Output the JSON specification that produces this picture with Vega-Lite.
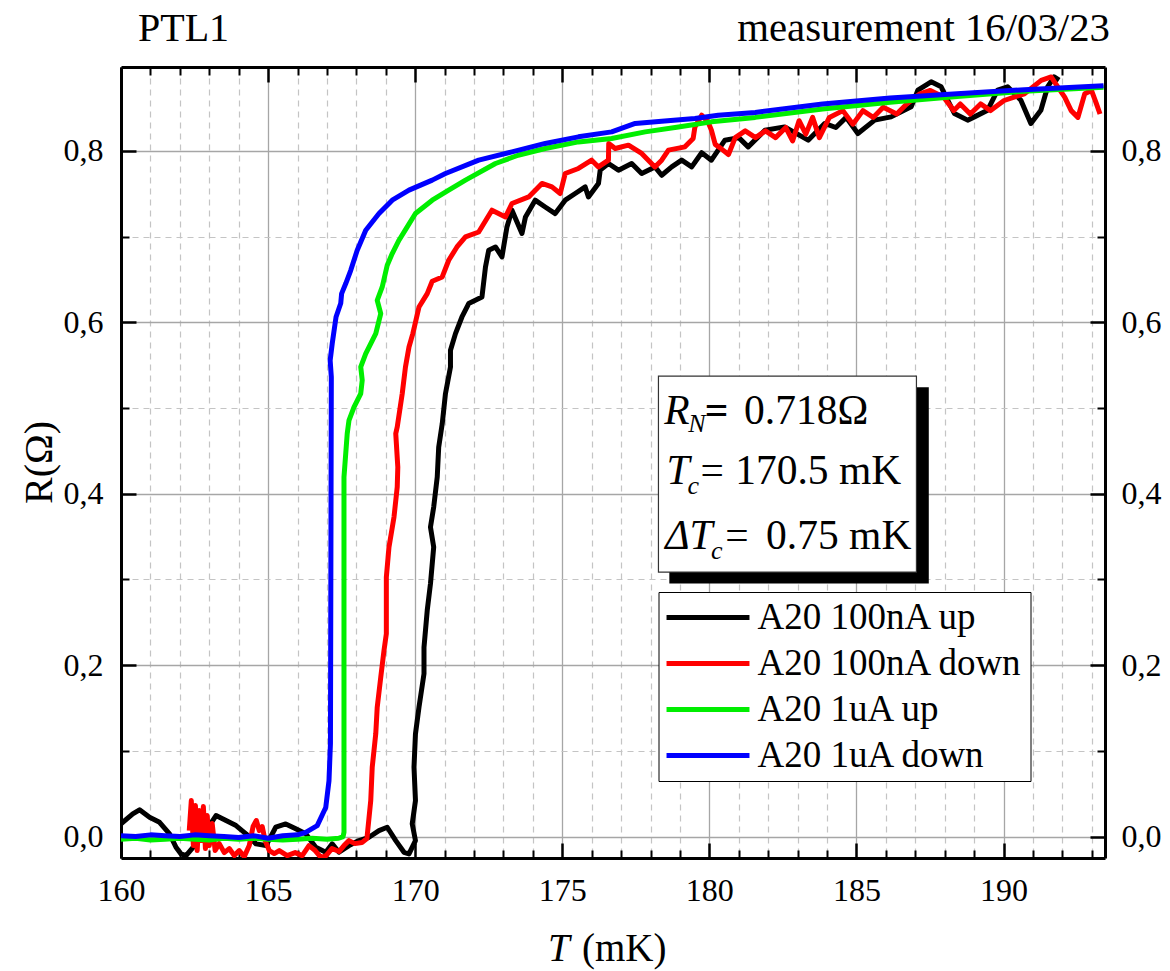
{
"$schema": "https://vega.github.io/schema/vega-lite/v6.json",
"width": 984, "height": 791,
"autosize": "none",
"padding": {"left": 121, "top": 67, "right": 65, "bottom": 113},
"background": "white",
"config": {
 "view": {"stroke": null},
 "font": "Liberation Serif",
 "axis": {"labelFont": "Liberation Serif", "titleFont": "Liberation Serif", "labelColor": "black", "titleColor": "black", "tickColor": "black", "domainColor": "black", "titleFontWeight": "normal", "labelFlush": false, "labelOverlap": false}
},
"datasets": {
 "up100": [
{"T":160.0,"R":0.0148},{"T":160.40,"R":0.0265},{"T":160.63,"R":0.0312},{"T":160.97,"R":0.0225},{"T":161.31,"R":0.0167},{"T":161.65,"R":0.0032},{"T":161.87,"R":-0.0125},{"T":162.04,"R":-0.0202},{"T":162.21,"R":-0.0222},{"T":162.55,"R":-0.0085},{"T":162.89,"R":0.007},{"T":163.23,"R":0.0245},{"T":163.57,"R":0.0187},{"T":163.91,"R":0.0128},{"T":164.25,"R":0.0032},{"T":164.59,"R":-0.0085},{"T":164.93,"R":-0.0105},{"T":165.26,"R":0.0109},{"T":165.60,"R":0.0148},{"T":165.94,"R":0.009},{"T":166.28,"R":0.0032},{"T":166.62,"R":-0.0125},{"T":166.96,"R":-0.0183},{"T":167.18,"R":-0.0085},{"T":167.41,"R":-0.0183},{"T":167.75,"R":-0.0105},{"T":168.09,"R":-0.0047},{"T":168.43,"R":-0.0008},{"T":168.77,"R":0.007},{"T":169.05,"R":0.0109},{"T":169.34,"R":-0.0047},{"T":169.62,"R":-0.0183},{"T":169.79,"R":-0.0202},{"T":170.01,"R":-0.0047},{"T":169.90,"R":0.0148},{"T":170.01,"R":0.042},{"T":169.96,"R":0.0809},{"T":170.01,"R":0.1199},{"T":170.13,"R":0.151},{"T":170.30,"R":0.19},{"T":170.30,"R":0.221},{"T":170.41,"R":0.2639},{"T":170.52,"R":0.295},{"T":170.63,"R":0.3378},{"T":170.52,"R":0.3611},{"T":170.63,"R":0.3845},{"T":170.75,"R":0.4195},{"T":170.80,"R":0.4545},{"T":170.92,"R":0.4818},{"T":171.03,"R":0.5169},{"T":171.20,"R":0.5479},{"T":171.20,"R":0.5674},{"T":171.37,"R":0.5869},{"T":171.59,"R":0.6063},{"T":171.82,"R":0.622},{"T":172.27,"R":0.6297},{"T":172.39,"R":0.6647},{"T":172.50,"R":0.6842},{"T":172.73,"R":0.688},{"T":172.95,"R":0.6764},{"T":173.12,"R":0.7114},{"T":173.29,"R":0.7309},{"T":173.63,"R":0.7037},{"T":173.75,"R":0.7231},{"T":174.08,"R":0.7426},{"T":174.42,"R":0.7347},{"T":174.76,"R":0.727},{"T":175.10,"R":0.7426},{"T":175.44,"R":0.7504},{"T":175.78,"R":0.7581},{"T":175.89,"R":0.7464},{"T":176.23,"R":0.762},{"T":176.29,"R":0.7776},{"T":176.57,"R":0.7854},{"T":176.91,"R":0.7776},{"T":177.36,"R":0.7854},{"T":177.70,"R":0.7737},{"T":178.15,"R":0.7814},{"T":178.38,"R":0.7717},{"T":178.72,"R":0.7814},{"T":179.06,"R":0.7893},{"T":179.40,"R":0.7814},{"T":179.74,"R":0.798},{"T":180.07,"R":0.7893},{"T":180.53,"R":0.8126},{"T":181.00,"R":0.8156},{"T":181.32,"R":0.8048},{"T":181.89,"R":0.8243},{"T":182.56,"R":0.8281},{"T":183.36,"R":0.8126},{"T":183.92,"R":0.8321},{"T":184.30,"R":0.8274},{"T":184.65,"R":0.8392},{"T":185.05,"R":0.8204},{"T":185.62,"R":0.836},{"T":186.18,"R":0.8398},{"T":186.86,"R":0.8515},{"T":187.09,"R":0.871},{"T":187.54,"R":0.8807},{"T":187.88,"R":0.8749},{"T":188.10,"R":0.8593},{"T":188.33,"R":0.8438},{"T":188.78,"R":0.836},{"T":189.01,"R":0.8398},{"T":189.46,"R":0.8476},{"T":189.80,"R":0.871},{"T":190.14,"R":0.8749},{"T":190.59,"R":0.8593},{"T":190.93,"R":0.8321},{"T":191.27,"R":0.8476},{"T":191.50,"R":0.8749},{"T":191.72,"R":0.8865},{"T":191.89,"R":0.8827}
 ],
 "down100": [
{"T":162.32,"R":0.007},{"T":162.39,"R":0.042},{"T":162.46,"R":-0.0105},{"T":162.53,"R":0.0362},{"T":162.59,"R":-0.0163},{"T":162.66,"R":0.0304},{"T":162.73,"R":-0.0047},{"T":162.80,"R":0.035},{"T":162.87,"R":-0.014},{"T":162.93,"R":0.0245},{"T":163.00,"R":-0.0105},{"T":163.10,"R":0.0152},{"T":163.20,"R":-0.0163},{"T":163.34,"R":-0.0082},{"T":163.51,"R":-0.0187},{"T":163.68,"R":-0.014},{"T":163.85,"R":-0.0222},{"T":164.02,"R":-0.0163},{"T":164.19,"R":-0.0234},{"T":164.36,"R":-0.0105},{"T":164.49,"R":0.0117},{"T":164.60,"R":0.0187},{"T":164.70,"R":0.007},{"T":164.80,"R":0.0117},{"T":164.90,"R":-0.0047},{"T":165.04,"R":-0.0163},{"T":165.21,"R":-0.0198},{"T":165.38,"R":-0.0163},{"T":165.65,"R":-0.0222},{"T":165.92,"R":-0.0187},{"T":166.16,"R":-0.0222},{"T":166.39,"R":-0.0105},{"T":166.60,"R":-0.0163},{"T":166.80,"R":-0.0245},{"T":166.97,"R":-0.0222},{"T":167.17,"R":-0.014},{"T":167.41,"R":-0.0175},{"T":167.58,"R":-0.0105},{"T":167.75,"R":-0.0047},{"T":167.95,"R":-0.0082},{"T":168.19,"R":-0.007},{"T":168.36,"R":-0.0023},{"T":168.49,"R":0.042},{"T":168.54,"R":0.0809},{"T":168.66,"R":0.1199},{"T":168.71,"R":0.151},{"T":168.83,"R":0.186},{"T":168.94,"R":0.2172},{"T":169.02,"R":0.2367},{"T":169.02,"R":0.2755},{"T":169.02,"R":0.3027},{"T":169.11,"R":0.3378},{"T":169.28,"R":0.3728},{"T":169.39,"R":0.4078},{"T":169.41,"R":0.4312},{"T":169.34,"R":0.4702},{"T":169.39,"R":0.4779},{"T":169.56,"R":0.5169},{"T":169.67,"R":0.5479},{"T":169.79,"R":0.5713},{"T":169.92,"R":0.5869},{"T":170.01,"R":0.6001},{"T":170.13,"R":0.618},{"T":170.41,"R":0.6336},{"T":170.58,"R":0.648},{"T":170.92,"R":0.653},{"T":171.14,"R":0.6725},{"T":171.42,"R":0.688},{"T":171.71,"R":0.6997},{"T":172.16,"R":0.7055},{"T":172.61,"R":0.7309},{"T":173.07,"R":0.7231},{"T":173.29,"R":0.7387},{"T":173.86,"R":0.7464},{"T":174.31,"R":0.7621},{"T":174.65,"R":0.7581},{"T":174.93,"R":0.7504},{"T":175.10,"R":0.7737},{"T":175.55,"R":0.7796},{"T":176.00,"R":0.7893},{"T":176.23,"R":0.7814},{"T":176.57,"R":0.7893},{"T":176.58,"R":0.8088},{"T":176.80,"R":0.8029},{"T":177.25,"R":0.8068},{"T":177.70,"R":0.7971},{"T":178.15,"R":0.7814},{"T":178.38,"R":0.7893},{"T":178.61,"R":0.801},{"T":179.17,"R":0.8048},{"T":179.45,"R":0.8146},{"T":179.51,"R":0.8281},{"T":179.74,"R":0.8418},{"T":179.96,"R":0.8336},{"T":180.07,"R":0.8243},{"T":180.20,"R":0.8077},{"T":180.43,"R":0.8019},{"T":180.65,"R":0.7959},{"T":180.88,"R":0.8156},{"T":181.22,"R":0.8235},{"T":181.57,"R":0.8156},{"T":181.91,"R":0.8235},{"T":182.25,"R":0.8156},{"T":182.60,"R":0.8274},{"T":182.83,"R":0.8117},{"T":183.05,"R":0.8353},{"T":183.28,"R":0.8196},{"T":183.51,"R":0.8392},{"T":183.74,"R":0.8156},{"T":184.08,"R":0.8392},{"T":184.54,"R":0.8471},{"T":184.88,"R":0.8313},{"T":185.22,"R":0.8471},{"T":185.57,"R":0.8392},{"T":185.91,"R":0.851},{"T":186.37,"R":0.8431},{"T":186.71,"R":0.8549},{"T":187.16,"R":0.8667},{"T":187.51,"R":0.8707},{"T":187.96,"R":0.8629},{"T":188.31,"R":0.8471},{"T":188.53,"R":0.8549},{"T":188.87,"R":0.8431},{"T":189.22,"R":0.8549},{"T":189.56,"R":0.8471},{"T":190.02,"R":0.8589},{"T":190.36,"R":0.8629},{"T":190.71,"R":0.8667},{"T":191.28,"R":0.8824},{"T":191.62,"R":0.8864},{"T":191.85,"R":0.8746},{"T":192.08,"R":0.8629},{"T":192.30,"R":0.8471},{"T":192.53,"R":0.8392},{"T":192.76,"R":0.8667},{"T":192.99,"R":0.8707},{"T":193.16,"R":0.8549},{"T":193.28,"R":0.8431}
 ],
 "up1": [
{"T":160.0,"R":-0.003},{"T":160.5,"R":-0.002},{"T":161.0,"R":-0.004},{"T":161.5,"R":-0.003},{"T":162.0,"R":-0.002},{"T":162.5,"R":-0.003},{"T":163.0,"R":-0.004},{"T":163.5,"R":-0.002},{"T":164.0,"R":-0.003},{"T":164.5,"R":-0.002},{"T":165.0,"R":-0.003},{"T":165.5,"R":-0.004},{"T":166.0,"R":-0.003},{"T":166.5,"R":-0.002},{"T":167.0,"R":-0.003},{"T":167.4,"R":-0.002},{"T":167.55,"R":0.0},{"T":167.58,"R":0.005},{"T":167.58,"R":0.0459},{"T":167.58,"R":0.4195},{"T":167.69,"R":0.4702},{"T":167.75,"R":0.4857},{"T":167.92,"R":0.5012},{"T":168.15,"R":0.5169},{"T":168.20,"R":0.5324},{"T":168.15,"R":0.548},{"T":168.32,"R":0.5636},{"T":168.49,"R":0.5753},{"T":168.66,"R":0.5869},{"T":168.83,"R":0.6103},{"T":168.71,"R":0.6258},{"T":168.88,"R":0.6413},{"T":169.05,"R":0.6667},{"T":169.22,"R":0.6803},{"T":169.45,"R":0.6959},{"T":169.73,"R":0.7114},{"T":170.01,"R":0.727},{"T":170.58,"R":0.7426},{"T":171.14,"R":0.7543},{"T":171.71,"R":0.766},{"T":172.73,"R":0.7854},{"T":173.5,"R":0.795},{"T":174.42,"R":0.8029},{"T":175.55,"R":0.8106},{"T":176.68,"R":0.8146},{"T":177.82,"R":0.8223},{"T":178.95,"R":0.8281},{"T":180.07,"R":0.834},{"T":181.56,"R":0.8392},{"T":183.85,"R":0.849},{"T":186.14,"R":0.8569},{"T":188.42,"R":0.8635},{"T":190.71,"R":0.8698},{"T":193.40,"R":0.8745}
 ],
 "down1": [
{"T":160.0,"R":0.001},{"T":160.5,"R":0.0},{"T":161.0,"R":0.002},{"T":161.5,"R":0.001},{"T":162.0,"R":0.0},{"T":162.5,"R":0.002},{"T":163.0,"R":0.001},{"T":163.5,"R":0.0},{"T":164.0,"R":-0.001},{"T":164.5,"R":0.001},{"T":165.0,"R":-0.002},{"T":165.5,"R":0.001},{"T":166.0,"R":0.002},{"T":166.28,"R":0.005},{"T":166.67,"R":0.0128},{"T":166.96,"R":0.034},{"T":167.07,"R":0.065},{"T":167.12,"R":0.1086},{"T":167.15,"R":0.536},{"T":167.11,"R":0.5557},{"T":167.18,"R":0.5752},{"T":167.31,"R":0.6063},{"T":167.47,"R":0.6223},{"T":167.50,"R":0.6336},{"T":167.64,"R":0.6453},{"T":167.81,"R":0.6608},{"T":168.03,"R":0.6842},{"T":168.32,"R":0.7075},{"T":168.77,"R":0.727},{"T":169.22,"R":0.7426},{"T":169.79,"R":0.7543},{"T":170.58,"R":0.766},{"T":171.03,"R":0.7737},{"T":172.16,"R":0.7893},{"T":173.29,"R":0.799},{"T":174.42,"R":0.8088},{"T":175.55,"R":0.8165},{"T":176.68,"R":0.8223},{"T":177.48,"R":0.8321},{"T":178.38,"R":0.8348},{"T":179.51,"R":0.838},{"T":180.30,"R":0.8418},{"T":181.56,"R":0.845},{"T":183.85,"R":0.8549},{"T":186.14,"R":0.8617},{"T":188.42,"R":0.8667},{"T":190.71,"R":0.8715},{"T":193.40,"R":0.8762}
 ]
},
"layer": [
 {
  "data": {"name": "up100"},
  "mark": {"type": "line", "strokeWidth": 5, "strokeJoin": "round", "clip": true},
  "encoding": {
   "x": {"field": "T", "type": "quantitative", "scale": {"domain": [160, 193.45], "nice": false, "zero": false},
    "axis": {"orient": "bottom", "values": [160,165,170,175,180,185,190], "format": "d", "tickSize": -15, "tickWidth": 2.5, "labelFontSize": 32, "labelPadding": 32, "domainWidth": 3, "grid": true, "gridColor": "#a6a6a6", "gridWidth": 1.3, "title": "(mK)", "titleFontSize": 39, "titleX": 460.5, "titleY": 102, "titleAlign": "left", "titleBaseline": "alphabetic"}},
   "y": {"field": "R", "type": "quantitative", "scale": {"domain": [-0.025, 0.898], "nice": false, "zero": false},
    "axis": {"orient": "left", "values": [0,0.2,0.4,0.6,0.8], "labelExpr": "replace(format(datum.value, '.1f'), '.', ',')", "tickSize": -15, "tickWidth": 2.5, "labelFontSize": 32, "labelPadding": 33, "domainWidth": 3, "grid": true, "gridColor": "#a6a6a6", "gridWidth": 1.3, "title": "R(Ω)", "titleFontSize": 40, "titleAngle": 270, "titleX": -69.5, "titleY": 395, "titleAlign": "center", "titleBaseline": "alphabetic"}},
   "color": {"datum": "A20 100nA up", "type": "nominal",
    "scale": {"domain": ["A20 100nA up", "A20 100nA down", "A20 1uA up", "A20 1uA down"], "range": ["#000000", "#ff0000", "#00ee00", "#0000ff"]},
    "legend": {"title": null, "orient": "none", "legendX": 537.5, "legendY": 525, "symbolType": "M-4,0H4", "symbolSize": 430, "symbolStrokeWidth": 5, "symbolOffset": 24, "labelFontSize": 37, "labelFont": "Liberation Serif", "labelColor": "black", "labelOffset": 31, "rowPadding": 8, "padding": 7, "strokeColor": "black", "fillColor": "white", "labelLimit": 0}},
   "order": {"value": null}
  }
 },
 {
  "data": {"name": "down100"},
  "mark": {"type": "line", "strokeWidth": 5, "strokeJoin": "round", "clip": true},
  "encoding": {
   "x": {"field": "T", "type": "quantitative",
    "axis": {"orient": "bottom", "values": [161,162,163,164,166,167,168,169,171,172,173,174,176,177,178,179,181,182,183,184,186,187,188,189,191,192,193], "tickSize": -8, "tickWidth": 2, "labels": false, "domain": false, "grid": true, "gridColor": "#c4c4c4", "gridDash": [6, 5], "gridWidth": 1.2, "title": "T", "titleFontStyle": "italic", "titleFontSize": 39, "titleX": 426.5, "titleY": 102, "titleAlign": "left", "titleBaseline": "alphabetic"}},
   "y": {"field": "R", "type": "quantitative",
    "axis": {"orient": "left", "values": [0.1,0.3,0.5,0.7], "tickSize": -8, "tickWidth": 2, "labels": false, "domain": false, "grid": true, "gridColor": "#c4c4c4", "gridDash": [6, 5], "gridWidth": 1.2, "title": null}},
   "color": {"datum": "A20 100nA down", "type": "nominal"},
   "order": {"value": null}
  }
 },
 {
  "data": {"name": "up1"},
  "mark": {"type": "line", "strokeWidth": 5, "strokeJoin": "round", "clip": true},
  "encoding": {
   "x": {"field": "T", "type": "quantitative",
    "axis": {"orient": "top", "values": [160,165,170,175,180,185,190], "tickSize": -15, "tickWidth": 2.5, "labels": false, "domainWidth": 3, "grid": false, "title": "measurement 16/03/23", "titleFontSize": 40.8, "titleX": 988.5, "titleY": -27, "titleAlign": "right", "titleBaseline": "alphabetic"}},
   "y": {"field": "R", "type": "quantitative",
    "axis": {"orient": "right", "values": [0,0.2,0.4,0.6,0.8], "labelExpr": "replace(format(datum.value, '.1f'), '.', ',')", "tickSize": -15, "tickWidth": 2.5, "labelFontSize": 32, "labelPadding": 31, "domainWidth": 3, "grid": false, "title": null}},
   "color": {"datum": "A20 1uA up", "type": "nominal"},
   "order": {"value": null}
  }
 },
 {
  "data": {"name": "down1"},
  "mark": {"type": "line", "strokeWidth": 5, "strokeJoin": "round", "clip": true},
  "encoding": {
   "x": {"field": "T", "type": "quantitative",
    "axis": {"orient": "top", "values": [161,162,163,164,166,167,168,169,171,172,173,174,176,177,178,179,181,182,183,184,186,187,188,189,191,192,193], "tickSize": -8, "tickWidth": 2, "labels": false, "domain": false, "grid": false, "title": "PTL1", "titleFontSize": 40, "titleX": 16.5, "titleY": -27, "titleAlign": "left", "titleBaseline": "alphabetic"}},
   "y": {"field": "R", "type": "quantitative",
    "axis": {"orient": "right", "values": [0.1,0.3,0.5,0.7], "tickSize": -8, "tickWidth": 2, "labels": false, "domain": false, "grid": false, "title": null}},
   "color": {"datum": "A20 1uA down", "type": "nominal"},
   "order": {"value": null}
  }
 },
 {
  "data": {"values": [{}]},
  "mark": {"type": "rect", "fill": "black"},
  "encoding": {
   "x": {"datum": 178.64, "type": "quantitative", "axis": null}, "x2": {"datum": 187.46},
   "y": {"datum": 0.5242, "type": "quantitative", "axis": null}, "y2": {"datum": 0.2954}
  }
 },
 {
  "data": {"values": [{}]},
  "mark": {"type": "rect", "fill": "white", "stroke": "#333333", "strokeWidth": 1.2},
  "encoding": {
   "x": {"datum": 178.27, "type": "quantitative", "axis": null}, "x2": {"datum": 187.04},
   "y": {"datum": 0.5374, "type": "quantitative", "axis": null}, "y2": {"datum": 0.3086}
  }
 },
 {"data": {"values": [{}]}, "mark": {"type": "text", "font": "Liberation Serif", "fontSize": 41.5, "fontStyle": "italic", "align": "left", "baseline": "alphabetic", "color": "black"},
  "encoding": {"x": {"datum": 178.47, "type": "quantitative", "axis": null}, "y": {"datum": 0.4819, "type": "quantitative", "axis": null}, "text": {"value": "R"}}},
 {"data": {"values": [{}]}, "mark": {"type": "text", "font": "Liberation Serif", "fontSize": 26, "fontStyle": "italic", "align": "left", "baseline": "alphabetic", "color": "black"},
  "encoding": {"x": {"datum": 179.285, "type": "quantitative", "axis": null}, "y": {"datum": 0.472, "type": "quantitative", "axis": null}, "text": {"value": "N"}}},
 {"data": {"values": [{}]}, "mark": {"type": "text", "font": "Liberation Serif", "fontSize": 41.5, "fontWeight": "bold", "align": "left", "baseline": "alphabetic", "color": "black"},
  "encoding": {"x": {"datum": 179.84, "type": "quantitative", "axis": null}, "y": {"datum": 0.4819, "type": "quantitative", "axis": null}, "text": {"value": "="}}},
 {"data": {"values": [{}]}, "mark": {"type": "text", "font": "Liberation Serif", "fontSize": 41.5, "align": "left", "baseline": "alphabetic", "color": "black"},
  "encoding": {"x": {"datum": 181.18, "type": "quantitative", "axis": null}, "y": {"datum": 0.4819, "type": "quantitative", "axis": null}, "text": {"value": "0.718Ω"}}},
 {"data": {"values": [{}]}, "mark": {"type": "text", "font": "Liberation Serif", "fontSize": 41.5, "fontStyle": "italic", "align": "left", "baseline": "alphabetic", "color": "black"},
  "encoding": {"x": {"datum": 178.54, "type": "quantitative", "axis": null}, "y": {"datum": 0.4118, "type": "quantitative", "axis": null}, "text": {"value": "T"}}},
 {"data": {"values": [{}]}, "mark": {"type": "text", "font": "Liberation Serif", "fontSize": 26, "fontStyle": "italic", "align": "left", "baseline": "alphabetic", "color": "black"},
  "encoding": {"x": {"datum": 179.26, "type": "quantitative", "axis": null}, "y": {"datum": 0.4001, "type": "quantitative", "axis": null}, "text": {"value": "c"}}},
 {"data": {"values": [{}]}, "mark": {"type": "text", "font": "Liberation Serif", "fontSize": 41.5, "align": "left", "baseline": "alphabetic", "color": "black"},
  "encoding": {"x": {"datum": 179.70, "type": "quantitative", "axis": null}, "y": {"datum": 0.4118, "type": "quantitative", "axis": null}, "text": {"value": "="}}},
 {"data": {"values": [{}]}, "mark": {"type": "text", "font": "Liberation Serif", "fontSize": 41.5, "align": "left", "baseline": "alphabetic", "color": "black"},
  "encoding": {"x": {"datum": 180.88, "type": "quantitative", "axis": null}, "y": {"datum": 0.4118, "type": "quantitative", "axis": null}, "text": {"value": "170.5 mK"}}},
 {"data": {"values": [{}]}, "mark": {"type": "text", "font": "Liberation Serif", "fontSize": 41.5, "fontStyle": "italic", "align": "left", "baseline": "alphabetic", "color": "black"},
  "encoding": {"x": {"datum": 178.50, "type": "quantitative", "axis": null}, "y": {"datum": 0.3359, "type": "quantitative", "axis": null}, "text": {"value": "ΔT"}}},
 {"data": {"values": [{}]}, "mark": {"type": "text", "font": "Liberation Serif", "fontSize": 26, "fontStyle": "italic", "align": "left", "baseline": "alphabetic", "color": "black"},
  "encoding": {"x": {"datum": 180.06, "type": "quantitative", "axis": null}, "y": {"datum": 0.3242, "type": "quantitative", "axis": null}, "text": {"value": "c"}}},
 {"data": {"values": [{}]}, "mark": {"type": "text", "font": "Liberation Serif", "fontSize": 41.5, "align": "left", "baseline": "alphabetic", "color": "black"},
  "encoding": {"x": {"datum": 180.54, "type": "quantitative", "axis": null}, "y": {"datum": 0.3359, "type": "quantitative", "axis": null}, "text": {"value": "="}}},
 {"data": {"values": [{}]}, "mark": {"type": "text", "font": "Liberation Serif", "fontSize": 41.5, "align": "left", "baseline": "alphabetic", "color": "black"},
  "encoding": {"x": {"datum": 181.93, "type": "quantitative", "axis": null}, "y": {"datum": 0.3359, "type": "quantitative", "axis": null}, "text": {"value": "0.75 mK"}}}
],
"resolve": {"axis": {"x": "independent", "y": "independent"}}
}
